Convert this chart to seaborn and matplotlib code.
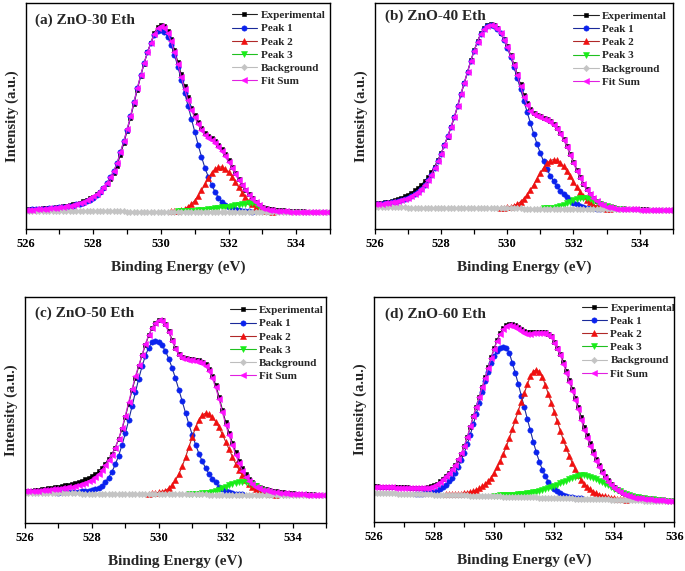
import numpy as np
import matplotlib
matplotlib.use("Agg")
import matplotlib.pyplot as plt
import seaborn as sns
from matplotlib.ticker import MultipleLocator

sns.set_style("white")
plt.rcParams["font.family"] = ["Liberation Serif", "DejaVu Serif"]
plt.rcParams["font.weight"] = "bold"

ENERGY_START = 526.0
ENERGY_STEP = 0.1

# ---------------- (a) ZnO-30 Eth ----------------
bg_a = [18.2, 18.2, 18.2, 18.2, 18.2, 18.2, 18.2, 18.2, 18.2, 18.2,
        18.1, 18.1, 18.1, 18.1, 18.1, 18.1, 18.1, 18.1, 18.1, 18.1,
        18.0, 18.0, 18.0, 18.0, 18.0, 18.0, 18.0, 18.0, 18.0, 18.0,
        17.9, 17.9, 17.9, 17.9, 17.9, 17.9, 17.9, 17.9, 17.9, 17.9,
        17.8, 17.8, 17.8, 17.8, 17.8, 17.8, 17.8, 17.8, 17.8, 17.8,
        17.7, 17.7, 17.7, 17.7, 17.7, 17.7, 17.7, 17.7, 17.7, 17.7,
        17.6, 17.6, 17.6, 17.6, 17.6, 17.6, 17.6, 17.6, 17.6, 17.6,
        17.5, 17.5, 17.5, 17.5, 17.5, 17.5, 17.5, 17.5, 17.5, 17.5,
        17.4, 17.4, 17.4, 17.4, 17.4, 17.4, 17.4, 17.4, 17.4, 17.4, 17.4]
exp_a = [19.8, 20.0, 20.3, 20.5, 20.8, 21.0, 21.3, 21.6, 21.9, 22.3,
         22.7, 23.2, 23.7, 24.3, 25.0, 25.9, 26.9, 28.0, 29.5, 31.2,
         32.8, 35.0, 37.8, 41.0, 45.0, 50.2, 56.0, 63.8, 74.5, 86.0,
         98.5, 111.5, 125.5, 139.5, 153.0, 165.5, 177.0, 186.5, 196.0, 202.0,
         204.5, 203.0, 198.5, 190.5, 179.5, 167.5, 155.0, 143.0, 132.0, 121.5,
         114.0, 107.5, 101.5, 96.5, 93.5, 91.0, 88.0, 84.5, 80.0, 75.0,
         69.0, 62.5, 56.0, 50.0, 44.5, 39.5, 35.0, 31.0, 27.5, 24.5,
         22.5, 21.2, 20.5, 20.0, 19.7, 19.4, 19.1, 18.9, 18.7, 18.5,
         18.3, 18.1, 18.0, 17.9, 17.8, 17.7, 17.7, 17.6, 17.6, 17.5, 17.5]
fit_a = [19.5, 19.7, 19.9, 20.1, 20.3, 20.6, 20.9, 21.2, 21.5, 21.8,
         22.2, 22.6, 23.0, 23.5, 24.2, 25.1, 26.0, 27.2, 29.0, 31.0,
         33.0, 35.5, 38.5, 42.0, 46.5, 52.0, 58.0, 66.0, 77.0, 88.0,
         100.0, 113.0, 127.0, 141.0, 154.0, 166.0, 177.0, 186.0, 195.5, 201.0,
         203.0, 201.0, 196.0, 188.0, 177.0, 165.0, 152.5, 140.5, 129.5, 119.0,
         112.0, 105.0, 99.0, 94.0, 91.5, 89.0, 86.5, 82.0, 78.0, 73.0,
         67.5, 61.5, 55.5, 49.5, 44.0, 39.0, 34.5, 30.5, 27.0, 24.0,
         21.8, 20.3, 19.5, 19.0, 18.6, 18.3, 18.1, 18.0, 17.9, 17.8,
         17.7, 17.7, 17.6, 17.6, 17.6, 17.5, 17.5, 17.5, 17.5, 17.4, 17.4]
p1_a_start = 526.0
p1_a = [1.5, 1.6, 1.8, 2.0, 2.2, 2.4, 2.7, 3.0, 3.3, 3.6,
        4.0, 4.3, 4.7, 5.2, 5.8, 6.9, 7.6, 8.7, 10.0, 11.6,
        13.5, 16.0, 19.0, 23.0, 28.0, 34.0, 40.0, 48.0, 59.0, 70.0,
        82.0, 95.0, 109.0, 123.0, 136.0, 148.0, 159.0, 168.0, 176.0, 180.5,
        182.0, 180.0, 175.0, 167.0, 157.0, 145.0, 132.0, 119.0, 106.0, 93.0,
        80.0, 67.0, 55.0, 44.0, 35.0, 27.0, 20.0, 14.0, 10.0, 7.0,
        5.0, 3.5, 2.5, 1.8, 1.2, 0.8, 0.5, 0.3]
p2_a_start = 530.3
p2_a = [0.25, 0.5, 0.95, 1.7, 3.0, 4.9, 7.5,
        11.2, 15.8, 21.3, 27.3, 33.3, 38.6, 42.6, 44.7, 44.8, 43.0,
        39.7, 35.2, 30.0, 24.6, 19.3, 14.6, 10.6, 7.4, 5.0, 3.2,
        2.0, 1.2, 0.7, 0.4]
p3_a_start = 530.5
p3_a = [0.3, 0.4, 0.5, 0.6, 0.8,
        1.0, 1.3, 1.6, 2.0, 2.4, 2.8, 3.3, 3.8, 4.3, 4.8,
        5.3, 5.8, 6.4, 7.0, 7.5, 8.0, 8.4, 8.5, 7.5, 5.0,
        2.5, 0.8, 0.2]

# ---------------- (b) ZnO-40 Eth ----------------
bg_b = [22.0, 22.0, 21.9, 21.9, 21.9, 21.9, 21.8, 21.8, 21.8, 21.8,
        21.7, 21.7, 21.7, 21.6, 21.6, 21.6, 21.6, 21.5, 21.5, 21.5,
        21.4, 21.4, 21.4, 21.4, 21.3, 21.3, 21.3, 21.2, 21.2, 21.2,
        21.2, 21.1, 21.1, 21.1, 21.0, 21.0, 21.0, 21.0, 20.9, 20.9,
        20.9, 20.8, 20.8, 20.8, 20.8, 20.7, 20.7, 20.7, 20.6, 20.6,
        20.6, 20.6, 20.5, 20.5, 20.5, 20.4, 20.4, 20.4, 20.4, 20.3,
        20.3, 20.3, 20.2, 20.2, 20.2, 20.2, 20.1, 20.1, 20.1, 20.0,
        20.0, 20.0, 20.0, 19.9, 19.9, 19.9, 19.8, 19.8, 19.8, 19.8,
        19.7, 19.7, 19.7, 19.6, 19.6, 19.6, 19.6, 19.5, 19.5, 19.5, 19.5]
exp_b = [25.4, 25.8, 26.2, 26.8, 27.5, 28.3, 29.2, 30.3, 31.6, 33.0,
         34.6, 36.5, 38.7, 41.3, 44.3, 48.0, 52.0, 56.8, 62.5, 69.0,
         76.0, 84.0, 92.5, 101.5, 111.5, 122.5, 134.5, 145.5, 157.0, 168.5,
         178.5, 187.5, 195.5, 200.5, 203.5, 204.5, 203.5, 200.5, 196.0, 189.5,
         182.5, 174.0, 165.0, 155.0, 144.5, 134.0, 126.0, 120.0, 116.0, 114.0,
         112.5, 111.0, 109.5, 107.5, 104.5, 101.0, 96.5, 90.5, 83.5, 75.5,
         67.5, 59.5, 52.0, 45.5, 40.0, 35.5, 31.5, 28.5, 26.0, 24.3,
         23.2, 22.5, 21.9, 21.5, 21.1, 20.8, 20.5, 20.3, 20.1, 20.0,
         19.9, 19.8, 19.8, 19.7, 19.7, 19.6, 19.6, 19.6, 19.5, 19.5, 19.5]
fit_b = [24.9, 25.2, 25.4, 25.8, 26.2, 26.7, 27.2, 28.0, 29.0, 30.2,
         31.5, 33.2, 35.2, 37.6, 40.6, 44.6, 49.1, 54.5, 61.0, 68.0,
         75.4, 83.9, 92.9, 102.4, 112.3, 123.3, 135.3, 146.2, 157.2, 168.2,
         178.2, 187.1, 195.1, 200.1, 203.0, 204.0, 203.0, 200.2, 195.4, 189.1,
         181.9, 173.3, 164.3, 153.8, 142.8, 131.7, 123.7, 118.2, 114.6, 113.1,
         111.6, 110.1, 108.5, 106.5, 103.5, 99.9, 95.4, 89.4, 82.4, 74.3,
         66.3, 58.3, 51.2, 44.7, 39.2, 34.7, 31.1, 28.1, 25.6, 23.8,
         22.6, 21.8, 21.2, 20.7, 20.4, 20.2, 19.9, 19.8, 19.8, 19.8,
         19.7, 19.7, 19.7, 19.6, 19.6, 19.6, 19.6, 19.5, 19.5, 19.5, 19.5]
p1_b_start = 526.0
p1_b = [2.9, 3.2, 3.5, 3.9, 4.3, 4.8, 5.4, 6.2, 7.2, 8.4,
        9.8, 11.5, 13.5, 16.0, 19.0, 23.0, 27.5, 33.0, 39.5, 46.5,
        54.0, 62.5, 71.5, 81.0, 91.0, 102.0, 114.0, 125.0, 136.0, 147.0,
        157.0, 166.0, 174.0, 179.0, 182.0, 183.0, 182.0, 179.2, 174.5, 168.2,
        160.3, 151.2, 141.1, 130.3, 119.0, 107.5, 96.3, 85.2, 74.5, 64.5,
        55.3, 47.0, 39.4, 33.0, 27.5, 22.5, 18.2, 14.5, 11.5, 8.5,
        6.2, 4.5, 3.2, 2.2, 1.5, 1.0, 0.7, 0.5, 0.3]
p2_b_start = 529.8
p2_b = [0.3, 0.5, 1.0, 1.7, 2.7, 4.4, 6.6, 9.7, 13.6, 18.4, 23.9, 29.7,
        35.6, 40.9, 45.2, 48.0, 49.0, 48.2, 45.9, 42.2, 37.6, 32.4, 27.0,
        21.8, 17.0, 12.8, 9.4, 6.6, 4.5, 3.0, 1.9, 1.2, 0.7, 0.4]
p3_b_start = 531.1
p3_b = [0.2, 0.36, 0.65, 1.1, 1.8, 2.7, 4.0, 5.4, 7.0, 8.5, 9.8, 10.7, 11.0,
        10.7, 9.8, 8.5, 7.0, 5.4, 4.0, 2.7, 1.8, 1.1, 0.65, 0.36, 0.2]

# ---------------- (c) ZnO-50 Eth ----------------
bg_c = [30.2, 30.2, 30.1, 30.1, 30.1, 30.1, 30.0, 30.0, 30.0, 30.0,
        29.9, 29.9, 29.9, 29.8, 29.8, 29.8, 29.8, 29.7, 29.7, 29.7,
        29.7, 29.6, 29.6, 29.6, 29.6, 29.5, 29.5, 29.5, 29.5, 29.4,
        29.4, 29.4, 29.4, 29.3, 29.3, 29.3, 29.2, 29.2, 29.2, 29.2,
        29.1, 29.1, 29.1, 29.1, 29.0, 29.0, 29.0, 29.0, 28.9, 28.9,
        28.9, 28.9, 28.8, 28.8, 28.8, 28.7, 28.7, 28.7, 28.7, 28.6,
        28.6, 28.6, 28.6, 28.5, 28.5, 28.5, 28.5, 28.4, 28.4, 28.4,
        28.4, 28.3, 28.3, 28.3, 28.2, 28.2, 28.2, 28.2, 28.1, 28.1,
        28.1, 28.1, 28.0, 28.0, 28.0, 28.0, 27.9, 27.9, 27.9, 27.9, 27.8]
exp_c = [32.0, 32.3, 32.7, 33.1, 33.5, 34.0, 34.5, 35.0, 35.5, 36.0,
         36.6, 37.2, 37.9, 38.6, 39.4, 40.3, 41.3, 42.5, 43.9, 45.5,
         47.3, 49.3, 51.7, 55.0, 59.5, 64.0, 69.0, 75.5, 84.0, 94.0,
         106.0, 119.5, 132.5, 145.0, 156.5, 167.5, 178.0, 187.5, 195.0, 200.0,
         203.0, 202.5, 198.5, 191.5, 183.0, 175.0, 169.0, 166.0, 164.5, 164.0,
         163.5, 163.0, 162.5, 161.0, 158.5, 154.0, 147.0, 138.0, 126.5, 113.5,
         101.0, 90.5, 80.5, 71.0, 62.5, 55.0, 49.0, 44.5, 41.0, 38.5,
         36.5, 35.2, 34.2, 33.4, 32.7, 32.1, 31.6, 31.1, 30.7, 30.3,
         30.0, 29.7, 29.4, 29.2, 29.0, 28.9, 28.8, 28.7, 28.6, 28.5, 28.4]
fit_c = [31.8, 32.0, 32.2, 32.4, 32.6, 32.9, 33.2, 33.5, 33.8, 34.2,
         34.6, 35.0, 35.5, 36.0, 36.6, 37.3, 38.1, 39.1, 40.3, 41.8,
         43.6, 45.8, 49.0, 53.0, 58.0, 63.0, 68.5, 75.5, 84.5, 95.0,
         107.5, 121.0, 134.0, 146.5, 157.5, 168.0, 179.0, 188.0, 195.0, 200.0,
         202.5, 201.5, 197.5, 190.5, 182.0, 174.0, 168.0, 165.0, 163.5, 163.0,
         162.5, 162.0, 161.0, 159.5, 157.0, 152.0, 145.0, 135.5, 124.0, 111.0,
         98.5, 88.0, 78.0, 68.5, 60.0, 52.5, 46.5, 42.5, 39.0, 36.5,
         34.8, 33.6, 32.8, 32.1, 31.5, 31.0, 30.6, 30.2, 29.9, 29.6,
         29.3, 29.1, 28.9, 28.8, 28.7, 28.6, 28.5, 28.4, 28.4, 28.3, 28.3]
p1_c_start = 527.0
p1_c = [0.8, 0.9, 1.0, 1.2, 1.4, 1.6, 1.9, 2.2, 2.6, 3.0,
        3.6, 4.5, 5.8, 8.1, 11.6, 16.2, 22.0, 29.2, 38.1, 48.5,
        60.4, 73.4, 87.2, 101.3, 114.8, 127.3, 138.0, 146.1, 151.3, 153.0,
        151.8, 148.3, 142.6, 135.0, 125.9, 115.5, 104.3, 92.9, 81.3, 70.0,
        59.5, 49.7, 40.8, 33.1, 26.4, 20.7, 16.0, 12.2, 8.0, 5.5,
        3.7, 2.4, 1.5, 0.9, 0.5, 0.3]
p2_c_start = 529.7
p2_c = [0.35, 0.6, 1.0,
        1.7, 2.6, 3.6, 5.9, 9.2, 13.9, 20.2, 27.9, 37.1, 47.1,
        57.3, 66.7, 74.3, 79.3, 81.0, 80.0, 77.3, 72.8, 67.1, 60.3,
        52.9, 45.4, 38.0, 31.0, 24.8, 19.4, 14.7, 10.9, 7.9, 5.7,
        3.9, 2.7, 1.8, 1.1, 0.7, 0.4]
p3_c_start = 530.9
p3_c = [0.4, 0.5, 0.6, 0.8, 1.0, 1.3, 1.8, 2.6, 3.6, 4.9, 6.3, 7.9, 9.4,
        10.9, 12.0, 12.7, 13.0, 12.7, 11.8, 10.4, 8.8, 7.1, 5.4, 3.9, 2.7,
        1.7, 1.1, 0.6, 0.3]

# ---------------- (d) ZnO-60 Eth ----------------
bg_d = [29.5, 29.4, 29.3, 29.2, 29.2, 29.1, 29.0, 28.9, 28.8, 28.7,
        28.7, 28.6, 28.5, 28.4, 28.3, 28.2, 28.1, 28.0, 28.0, 27.9,
        27.8, 27.7, 27.6, 27.5, 27.5, 27.4, 27.3, 27.2, 27.1, 27.0,
        27.0, 26.9, 26.8, 26.7, 26.6, 26.5, 26.4, 26.3, 26.3, 26.2,
        26.1, 26.0, 25.9, 25.8, 25.8, 25.7, 25.6, 25.5, 25.4, 25.3,
        25.3, 25.2, 25.1, 25.0, 24.9, 24.8, 24.7, 24.7, 24.6, 24.5,
        24.4, 24.3, 24.2, 24.1, 24.1, 24.0, 23.9, 23.8, 23.7, 23.6,
        23.6, 23.5, 23.4, 23.3, 23.2, 23.1, 23.0, 23.0, 22.9, 22.8,
        22.7, 22.6, 22.5, 22.4, 22.3, 22.3, 22.2, 22.1, 22.0, 21.9,
        21.8, 21.7, 21.7, 21.6, 21.5, 21.4, 21.3, 21.2, 21.2, 21.1, 21.0]
exp_d = [36.0, 35.9, 35.8, 35.7, 35.6, 35.5, 35.4, 35.3, 35.2, 35.1,
         35.0, 34.9, 34.8, 34.7, 34.6, 34.5, 34.5, 34.6, 35.0, 35.9,
         37.0, 38.8, 41.0, 43.3, 46.0, 49.3, 53.2, 57.5, 62.5, 68.5,
         76.0, 85.0, 95.5, 106.0, 115.5, 125.5, 135.5, 145.5, 155.5, 165.5,
         174.5, 183.0, 189.5, 194.5, 197.5, 198.5, 198.5, 197.5, 195.5, 193.5,
         191.5, 190.5, 190.5, 190.5, 191.0, 191.0, 191.0, 190.5, 189.0, 186.5,
         181.0, 175.0, 169.0, 161.0, 152.0, 143.0, 134.0, 125.0, 115.5, 105.0,
         95.0, 87.0, 79.0, 71.0, 63.5, 57.0, 51.5, 46.5, 42.0, 38.5,
         35.5, 33.0, 31.0, 29.3, 28.0, 26.8, 25.8, 25.2, 24.7, 24.3,
         24.0, 23.7, 23.4, 23.1, 22.8, 22.5, 22.3, 22.1, 21.9, 21.7, 21.6]
fit_d = [35.5, 35.4, 35.3, 35.2, 35.1, 35.0, 34.9, 34.8, 34.7, 34.6,
         34.5, 34.4, 34.3, 34.2, 34.1, 34.0, 34.0, 34.1, 34.5, 35.5,
         36.5, 38.5, 40.8, 43.2, 46.0, 49.5, 53.5, 57.8, 63.0, 69.0,
         76.5, 85.5, 96.0, 106.5, 115.6, 125.5, 135.5, 145.0, 155.0, 165.0,
         174.0, 182.0, 188.5, 193.5, 196.3, 197.2, 197.0, 195.8, 194.0, 191.8,
         190.0, 189.0, 188.8, 189.2, 189.6, 189.7, 189.6, 189.3, 188.0, 185.6,
         179.5, 173.5, 167.5, 159.0, 150.0, 140.6, 131.8, 122.8, 113.0, 102.5,
         92.3, 84.5, 76.5, 68.5, 61.3, 55.0, 49.6, 44.8, 40.5, 37.0,
         34.2, 32.0, 30.1, 28.5, 27.2, 26.1, 25.1, 24.6, 24.2, 23.9,
         23.6, 23.3, 23.0, 22.7, 22.4, 22.2, 22.0, 21.8, 21.6, 21.5, 21.4]
p1_d_start = 527.4
p1_d = [0.3, 0.5, 0.7, 1.0, 1.4, 2.1,
        2.9, 4.1, 5.6, 7.6, 10.2, 13.5, 17.5, 22.4, 28.2, 35.0,
        42.8, 51.5, 61.0, 71.3, 82.1, 93.2, 104.1, 114.8, 124.5, 133.2,
        140.3, 145.6, 148.9, 150.0, 148.5, 144.2, 134.0, 124.0, 113.0, 101.5,
        90.0, 78.5, 67.2, 55.7, 45.2, 36.0, 28.1, 21.5, 16.1, 11.9,
        9.0, 6.8, 5.0, 3.6, 2.6, 1.8, 1.2, 0.8, 0.5, 0.3]
p2_d_start = 528.4
p2_d = [0.4, 0.6, 0.8, 1.1, 1.4, 1.8,
        2.3, 2.9, 3.7, 4.7, 6.0, 7.5, 9.5, 12.0, 15.0, 18.5,
        23.6, 29.3, 35.5, 42.5, 50.3, 58.5, 67.5, 77.0, 86.5, 95.5,
        104.0, 113.0, 121.0, 126.0, 128.0, 126.0, 121.0, 113.0, 104.0, 95.5,
        86.5, 77.0, 67.5, 58.5, 50.3, 42.5, 35.5, 29.3, 23.6, 18.5,
        15.0, 12.0, 9.5, 7.5, 6.0, 4.7, 3.7, 2.9, 2.3, 1.8,
        1.4, 1.1, 0.8, 0.6, 0.4]
p3_d_start = 530.0
p3_d = [0.7, 0.8, 1.0, 1.1, 1.3, 1.5, 1.8, 2.1, 2.5, 2.9,
        3.4, 3.9, 4.5, 5.2, 5.9, 6.7, 7.6, 8.6, 9.7, 10.9,
        12.1, 13.4, 14.8, 16.2, 17.6, 19.0, 20.3, 21.5, 22.5, 23.3,
        23.5, 23.2, 22.4, 21.3, 20.0, 18.6, 17.1, 15.6, 14.1, 12.6,
        11.1, 9.7, 8.4, 7.2, 6.1, 5.1, 4.3, 3.6, 3.0, 2.5,
        2.1, 1.8, 1.5, 1.3, 1.1, 0.9, 0.7, 0.6, 0.5, 0.4,
        0.3]

panel_titles = ["(a) ZnO-30 Eth", "(b) ZnO-40 Eth", "(c) ZnO-50 Eth", "(d) ZnO-60 Eth"]
x_max = [535, 535, 535, 536]

# style: (line colour, marker colour, marker, marker size)
STYLE = {
    "Experimental": ("#222222", "#000000", "s", 3.4),
    "Peak 1": ("#1a2a9a", "#0a22ee", "o", 3.8),
    "Peak 2": ("#b02828", "#f01010", "^", 4.2),
    "Peak 3": ("#20c020", "#18ee18", "v", 4.2),
    "Background": ("#bdbdbd", "#c4c4c4", "D", 3.2),
    "Fit Sum": ("#e020e0", "#ff10ff", "<", 4.2),
}

panels = [
    (exp_a, fit_a, bg_a, [(p1_a_start, p1_a), (p2_a_start, p2_a), (p3_a_start, p3_a)]),
    (exp_b, fit_b, bg_b, [(p1_b_start, p1_b), (p2_b_start, p2_b), (p3_b_start, p3_b)]),
    (exp_c, fit_c, bg_c, [(p1_c_start, p1_c), (p2_c_start, p2_c), (p3_c_start, p3_c)]),
    (exp_d, fit_d, bg_d, [(p1_d_start, p1_d), (p2_d_start, p2_d), (p3_d_start, p3_d)]),
]

# axes rectangles in figure fractions
rects = [
    [0.0375, 0.5981, 0.4442, 0.3961],
    [0.5474, 0.5985, 0.4346, 0.3968],
    [0.0365, 0.0835, 0.4394, 0.3968],
    [0.5464, 0.0853, 0.4380, 0.3951],
]
legend_anchor = [(0.677, 0.968), (0.666, 0.962), (0.681, 0.961), (0.691, 0.971)]
title_pos = [(0.031, 0.926), (0.034, 0.938), (0.033, 0.927), (0.036, 0.922)]


def add_line(ax, x, y, label):
    lc, mc, mk, ms = STYLE[label]
    sns.lineplot(x=x, y=y, ax=ax, label=label, color=lc, marker=mk,
                 markersize=ms, markerfacecolor=mc, markeredgecolor=mc,
                 markeredgewidth=0.4, linewidth=0.8, estimator=None,
                 sort=False, legend=False)


fig = plt.figure(figsize=(6.85, 5.71), dpi=100)
fig.patch.set_facecolor("white")

for i, (exp, fit, bg, peaks) in enumerate(panels):
    ax = fig.add_axes(rects[i])
    n = len(exp)
    x = np.round(ENERGY_START + ENERGY_STEP * np.arange(n), 1)
    bgv = np.asarray(bg, dtype=float)

    add_line(ax, x, np.asarray(exp, dtype=float), "Experimental")
    for (start, vals), lab in zip(peaks, ["Peak 1", "Peak 2", "Peak 3"]):
        i0 = int(round((start - ENERGY_START) / ENERGY_STEP))
        seg = slice(i0, i0 + len(vals))
        add_line(ax, x[seg], bgv[seg] + np.asarray(vals, dtype=float), lab)
    add_line(ax, x, bgv, "Background")
    add_line(ax, x, np.asarray(fit, dtype=float), "Fit Sum")

    ax.set_xlim(526, x_max[i])
    ax.set_ylim(0, 226)
    ax.xaxis.set_major_locator(MultipleLocator(2))
    ax.xaxis.set_minor_locator(MultipleLocator(1))
    ax.set_yticks([])
    ax.tick_params(axis="x", which="both", direction="out", bottom=True,
                   length=3.5, width=0.9, labelsize=9, pad=2.5, colors="black")
    for lbl in ax.get_xticklabels():
        lbl.set_fontweight("bold")
    ax.set_xlabel("Binding Energy (eV)", fontsize=11, fontweight="bold", labelpad=8)
    ax.set_ylabel("Intensity (a.u.)", fontsize=10.5, fontweight="bold", labelpad=5)
    for s in ax.spines.values():
        s.set_linewidth(1.0)
        s.set_color("black")
        s.set_visible(True)
    ax.text(title_pos[i][0], title_pos[i][1], panel_titles[i], transform=ax.transAxes,
            fontsize=11, fontweight="bold", ha="left", va="center")
    ax.legend(loc="upper left", bbox_to_anchor=legend_anchor[i], frameon=False,
              prop={"size": 8, "weight": "bold"}, handlelength=2.3,
              handletextpad=0.3, labelspacing=0.3, borderpad=0,
              borderaxespad=0, numpoints=1)

fig.savefig("out.png", dpi=100, facecolor="white")
